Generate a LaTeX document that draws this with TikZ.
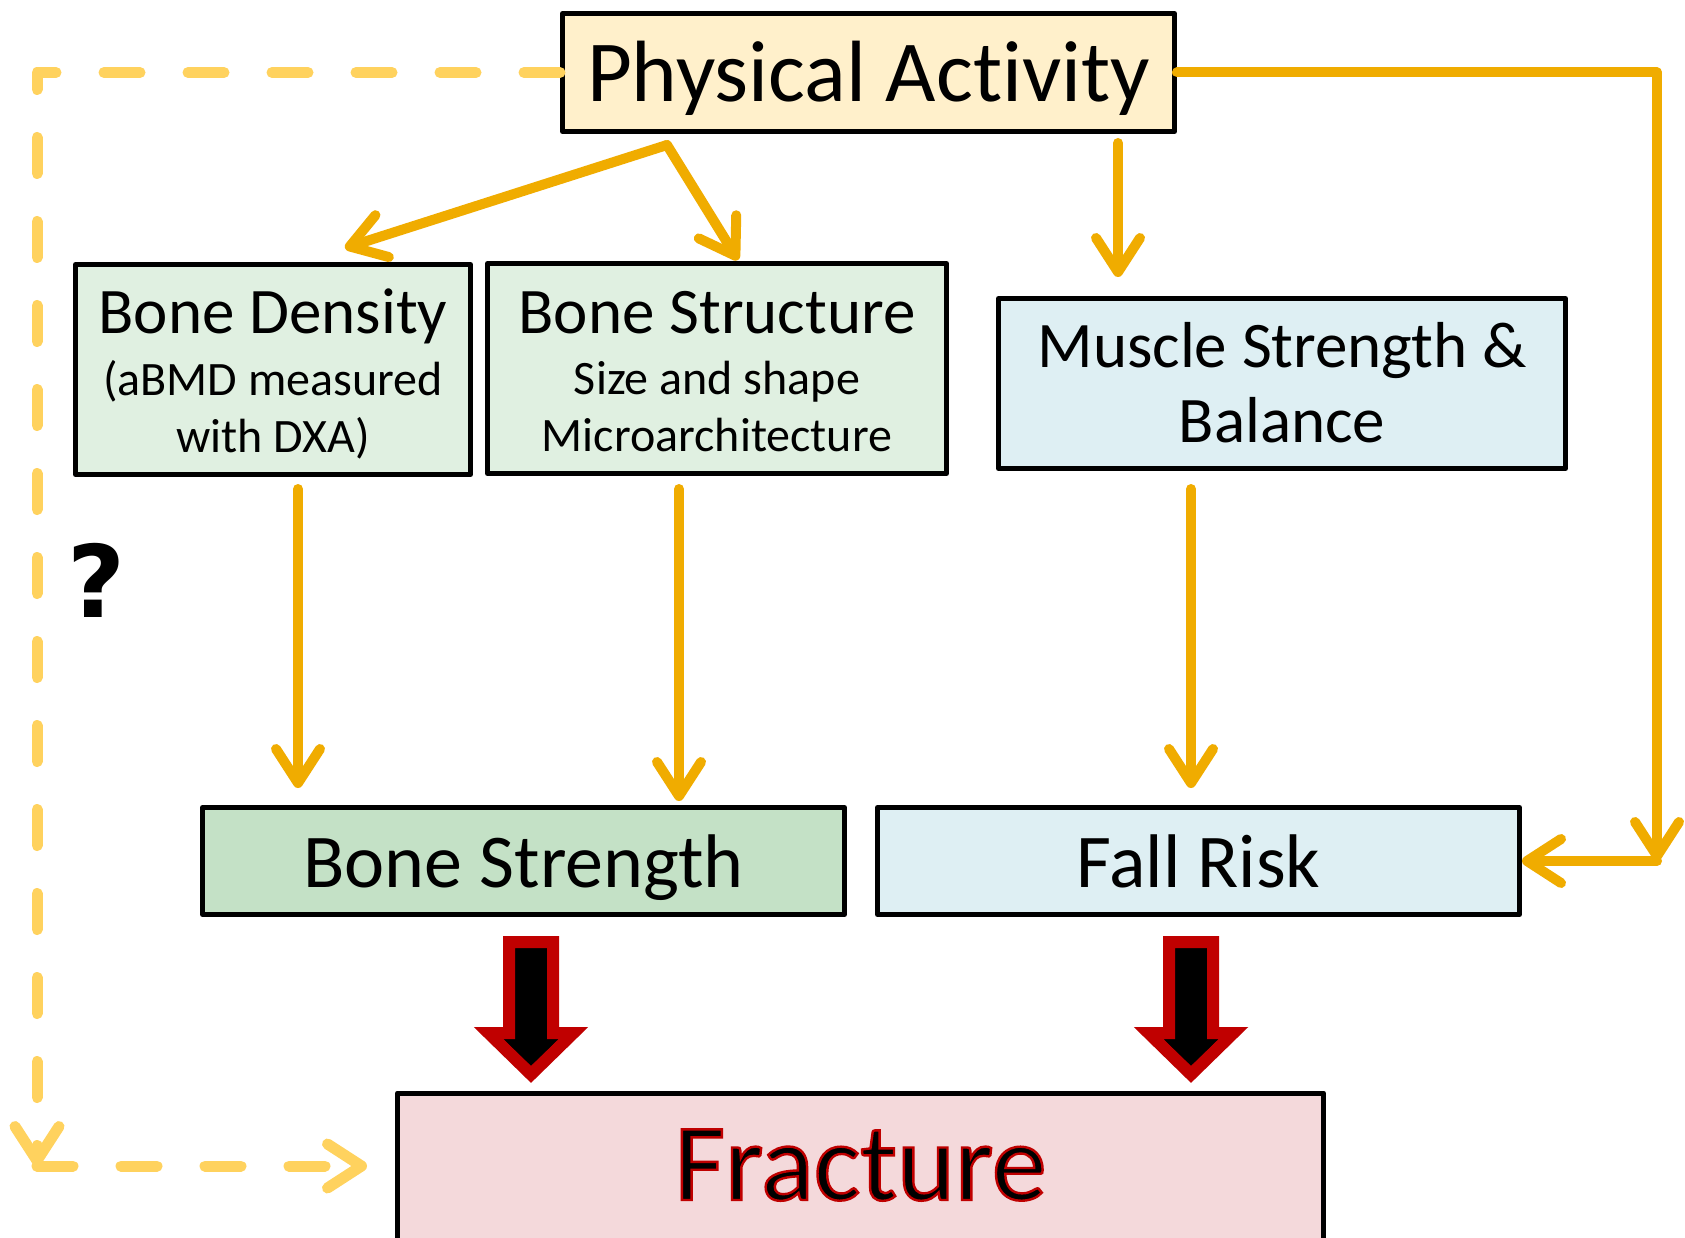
\documentclass[tikz,border=0pt]{standalone}
\usepackage{fontspec}
\setmainfont{Carlito}[Ligatures=NoCommon]
\newfontfamily\qmarkfont{DejaVu Sans}
\usetikzlibrary{arrows.meta}
\definecolor{paFill}{HTML}{FFF0CB}
\definecolor{bdFill}{HTML}{E0F0E1}
\definecolor{msFill}{HTML}{DEEFF3}
\definecolor{bsFill}{HTML}{C4E1C6}
\definecolor{frFill}{HTML}{F4D9DB}
\definecolor{oraLine}{HTML}{F0AC00}
\definecolor{dashLine}{HTML}{FFD25E}
\definecolor{blkRed}{HTML}{C00000}
\newcommand\setfs[1]{\fontsize{#1}{#1}\selectfont}
\newcommand\redoutline[1]{\special{pdf:code q 0.75 0 0 RG 2 Tr 2.4 w}#1\special{pdf:code Q}}
\begin{document}
\begin{tikzpicture}[x=1pt,y=-1pt,
  box/.style={draw=black, line width=5pt, rectangle, inner sep=0pt, line join=round},
  txt/.style={inner sep=0pt, anchor=base},
  oarrow/.style={draw=oraLine, line width=10pt, line cap=round, line join=round,
    -{Straight Barb[length=34pt, width=44pt, round]}},
  darrow/.style={draw=dashLine, line width=11pt, line cap=round, line join=round,
    dash pattern=on 36pt off 48pt,
    -{Straight Barb[length=34pt, width=44pt, round]}},
  blockarrow/.pic={
    \path[fill=black, draw=blkRed, line width=12pt, line join=miter]
      (-22,6) -- (22,6) -- (22,97) -- (42.5,97) -- (0,138.5) -- (-42.5,97) -- (-22,97) -- cycle;
    \path[draw=blkRed, line width=1.8pt, line join=miter]
      (-17,11) -- (17,11) -- (17,102) -- (30.4,102) -- (0,131.4) -- (-30.4,102) -- (-17,102) -- cycle;
  }]
\clip (0,0) rectangle (1685,1238);
\fill[white] (0,0) rectangle (1685,1238);

% boxes
\node[box, fill=paFill, minimum width=612pt, minimum height=118pt] (PA) at (868.5,72.5) {};
\node[box, fill=bdFill, minimum width=395pt, minimum height=210pt] (BD) at (273,369.5) {};
\node[box, fill=bdFill, minimum width=459pt, minimum height=210pt] (BS) at (717,368.5) {};
\node[box, fill=msFill, minimum width=567pt, minimum height=170pt] (MS) at (1282,383.5) {};
\node[box, fill=bsFill, minimum width=642pt, minimum height=107pt] (BStr) at (523.5,861) {};
\node[box, fill=msFill, minimum width=642pt, minimum height=107pt] (FR) at (1198.5,861) {};
\node[box, fill=frFill, minimum width=926pt, minimum height=170pt] (FX) at (860.5,1178) {};

% texts
\node[txt, font=\setfs{87}] (PAt) at (868.5,102) {Physical Activity};
\node[txt, font=\setfs{65}] (BDt1) at (273,334) {Bone Density};
\node[txt, font=\setfs{48}] (BDt2) at (273,395) {(aBMD measured};
\node[txt, font=\setfs{48}] (BDt3) at (273,452) {with DXA)};
\node[txt, font=\setfs{65}] (BSt1) at (717,333) {Bone Structure};
\node[txt, font=\setfs{48}] (BSt2) at (717,394) {Size and shape};
\node[txt, font=\setfs{48}] (BSt3) at (717,451) {Microarchitecture};
\node[txt, font=\setfs{65}] (MSt1) at (1282,367) {Muscle Strength \&};
\node[txt, font=\setfs{65}] (MSt2) at (1282,442) {Balance};
\node[txt, font=\setfs{76}] (BStrt) at (523.5,887) {Bone Strength};
\node[txt, font=\setfs{76}] (FRt) at (1198.5,887) {Fall Risk};
\node[txt, font=\setfs{110}] (FXt) at (860.5,1200) {\redoutline{Fracture}};
\node[txt, font=\qmarkfont\bfseries\setfs{100}] (Q) at (97,617) {?};

% connector points
\coordinate (split) at (667,145);
\coordinate (tipBD) at (345,248);
\coordinate (tipBS) at (738,260);
\coordinate (msS) at (1118,143);
\coordinate (msE) at (1118,277);
\coordinate (rc1) at (1657,72.5);
\coordinate (rc2) at (1657,861);
\coordinate (bdS) at (298,489);
\coordinate (bdE) at (298,788);
\coordinate (bsS) at (679,489);
\coordinate (bsE) at (679,801);
\coordinate (mfS) at (1191,489);
\coordinate (mfE) at (1191,788);
\coordinate (dc1) at (37,72.5);
\coordinate (dc2) at (37,1166);
\coordinate (dtip) at (367,1166);

% orange arrows
\draw[oarrow] (split) -- (tipBD);
\draw[oarrow] (split) -- (tipBS);
\draw[oarrow] (msS) -- (msE);
\draw[oarrow] (PA.east) -- (rc1) -- (rc2);
\draw[oarrow] (rc2) -- (FR.east);
\draw[oarrow] (bdS) -- (bdE);
\draw[oarrow] (bsS) -- (bsE);
\draw[oarrow] (mfS) -- (mfE);

% dashed
\draw[darrow] (PA.west) -- (dc1) -- (dc2);
\draw[darrow] (dc2) -- (dtip);

% block arrows
\pic at (531,936) {blockarrow};
\pic at (1191,936) {blockarrow};
\end{tikzpicture}
\end{document}
